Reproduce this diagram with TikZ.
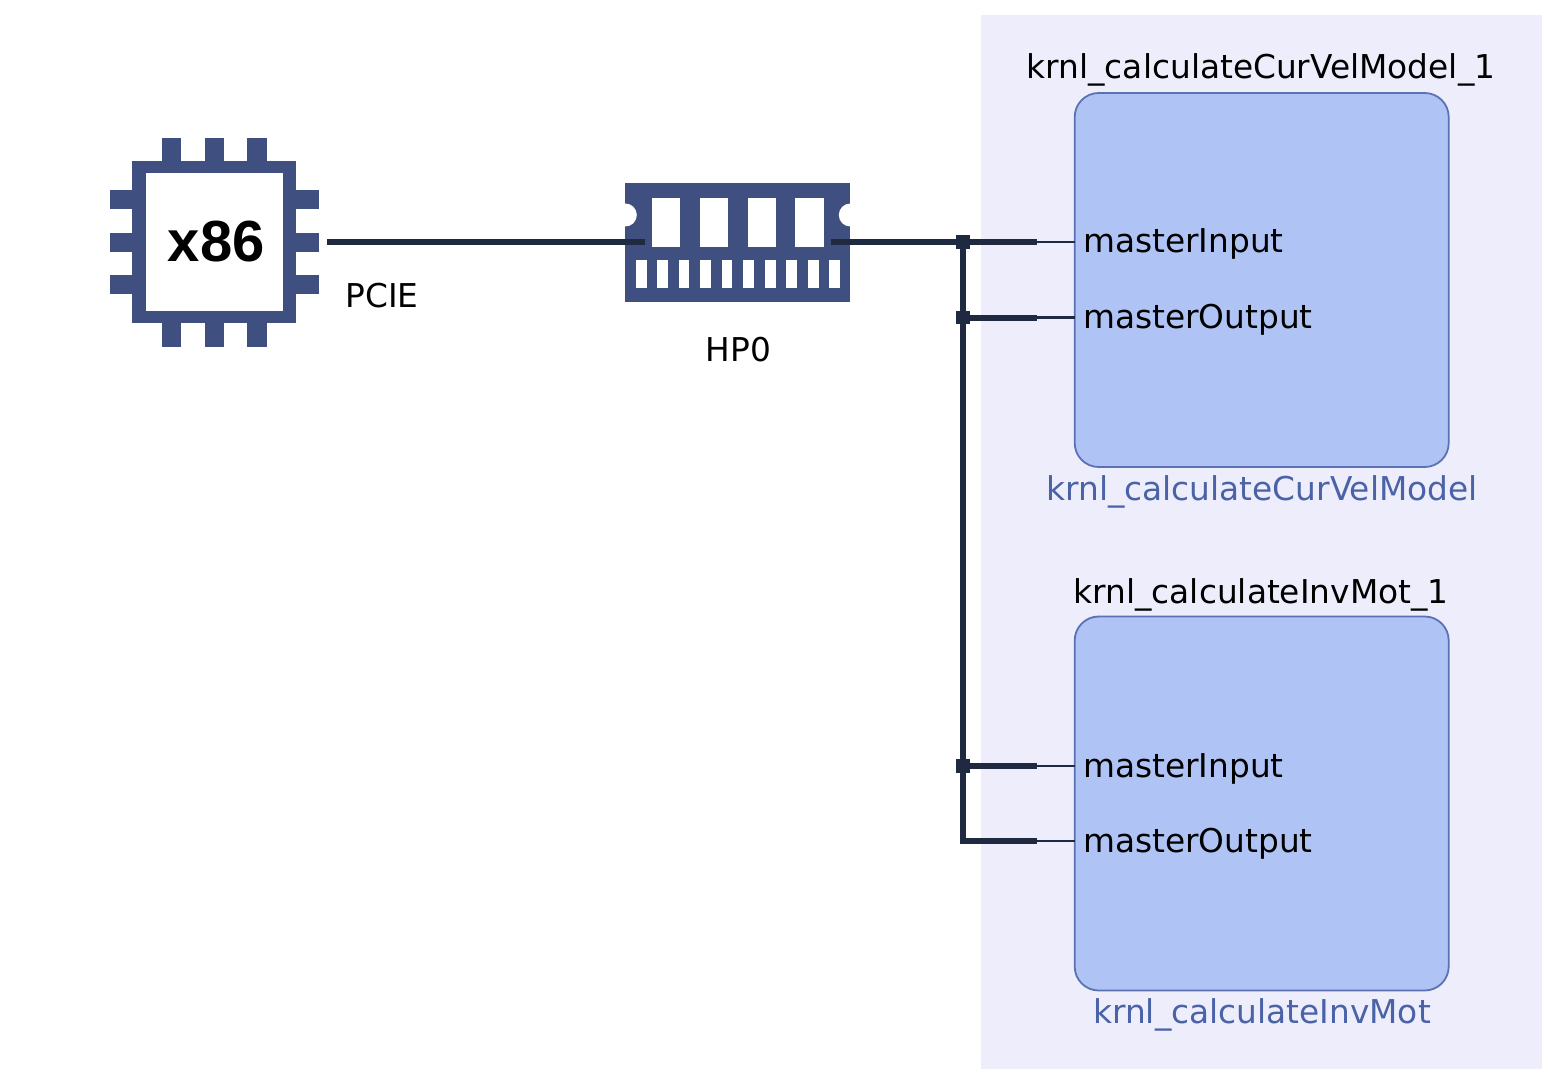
\documentclass[tikz,border=0pt]{standalone}
\usepackage{fontspec}
\setmainfont{DejaVu Sans}
\newfontfamily\chipfont{Liberation Sans}
\definecolor{panel}{HTML}{EDEDFC}
\definecolor{kfill}{HTML}{AFC4F5}
\definecolor{kline}{HTML}{5A72B4}
\definecolor{ktext}{HTML}{4A62A6}
\definecolor{icon}{HTML}{3F5080}
\definecolor{wire}{HTML}{1F2A40}
\tikzset{
  kernel/.style={draw=kline,fill=kfill,line width=1.8pt,rounded corners=24pt,minimum width=374pt,minimum height=374pt,inner sep=0pt,outer sep=0pt},
  lbl/.style={inner sep=0pt,font=\fontsize{32.8}{38}\selectfont,text=black},
  klbl/.style={lbl,text=ktext},
  thick wire/.style={draw=wire,line width=6pt},
  thin wire/.style={draw=wire,line width=2.2pt},
  junction/.style={fill=wire,minimum size=13.7pt,inner sep=0pt,outer sep=0pt},
  iconfill/.style={fill=icon}
}
\begin{document}
\begin{tikzpicture}[x=1pt,y=-1pt]
\useasboundingbox (0,0) rectangle (1567,1086);
\fill[panel] (981,15) rectangle (1542,1069);
% chip
\fill[iconfill] (132.3,160.7) rectangle (295.7,323.3);
\foreach \a/\b in {161.7/181.3,205/224.3,247/266.7}{
  \fill[iconfill] (\a,138) rectangle (\b,161);
  \fill[iconfill] (\a,323) rectangle (\b,346.7);
}
\foreach \a/\b in {189.7/209.3,233/252.3,275/294.3}{
  \fill[iconfill] (110,\a) rectangle (133,\b);
  \fill[iconfill] (295,\a) rectangle (319,\b);
}
\node[fill=white,minimum width=137.3pt,minimum height=137.4pt,inner sep=0pt,outer sep=0pt,font=\chipfont\bfseries\fontsize{58}{60}\selectfont] (chip) at (214.35,242) {\hspace{4pt}x86};
\coordinate (chipout) at (327,242.3);
% ram
\fill[iconfill] (625.3,182.7) rectangle (850.3,301.7);
\fill[white] (625.3,215) circle (11.5);
\fill[white] (850.3,215) circle (11.5);
\fill[white] (615,200) rectangle (625.3,230);
\fill[white] (850.3,200) rectangle (860,230);
\foreach \a/\b in {651.7/680.3,699.7/728.3,747.7/776,795.3/823.7}{
  \fill[white] (\a,198.3) rectangle (\b,247.3);
}
\foreach \a/\b in {635.7/646.7,657/667.7,678.7/689.3,700.3/710.7,721.7/732.3,743.3/754,765/775.7,786.3/797,808.3/818.7,829.3/840}{
  \fill[white] (\a,260) rectangle (\b,287.7);
}
\coordinate (ramin) at (645,242.3);
\coordinate (ramout) at (831,242.3);
\node[lbl,anchor=base] (pcie) at (382,307) {PCIE};
\node[lbl,anchor=base] (hp) at (738.5,361) {HP0};
% kernels
\node[kernel] (k1) at (1261.7,280) {};
\node[kernel] (k2) at (1261.7,803.5) {};
\node[lbl,anchor=base] (k1t) at (1261,79) {krnl\_calculateCurVelModel\_1};
\node[klbl,anchor=base] (k1b) at (1262,500) {krnl\_calculateCurVelModel};
\node[lbl,anchor=base] (k2t) at (1261,603) {krnl\_calculateInvMot\_1};
\node[klbl,anchor=base] (k2b) at (1262,1023) {krnl\_calculateInvMot};
\node[lbl,anchor=base west] (p1) at (1083,253) {masterInput};
\node[lbl,anchor=base west] (p2) at (1083,328.5) {masterOutput};
\node[lbl,anchor=base west] (p3) at (1083,777) {masterInput};
\node[lbl,anchor=base west] (p4) at (1083,852) {masterOutput};
% ports
\coordinate (s1) at (1037,242.3);
\coordinate (s2) at (1037,317.5);
\coordinate (s3) at (1037,766);
\coordinate (s4) at (1037,841);
\coordinate (e1) at (1074.5,242.3);
\coordinate (e2) at (1074.5,317.5);
\coordinate (e3) at (1074.5,766);
\coordinate (e4) at (1074.5,841);
\node[junction] (j1) at (963,242.3) {};
\node[junction] (j2) at (963,317.5) {};
\node[junction] (j3) at (963,766) {};
% wires
\draw[thick wire] (chipout) -- (ramin);
\draw[thick wire] (ramout) -- (s1);
\draw[thick wire] (j2.center) -- (s2);
\draw[thick wire] (j3.center) -- (s3);
\draw[thick wire,line join=miter] (j1.center) -- (963,841) -- (s4);
\foreach \i in {1,2,3,4}{\draw[thin wire] (s\i) -- (e\i);}
\end{tikzpicture}
\end{document}
